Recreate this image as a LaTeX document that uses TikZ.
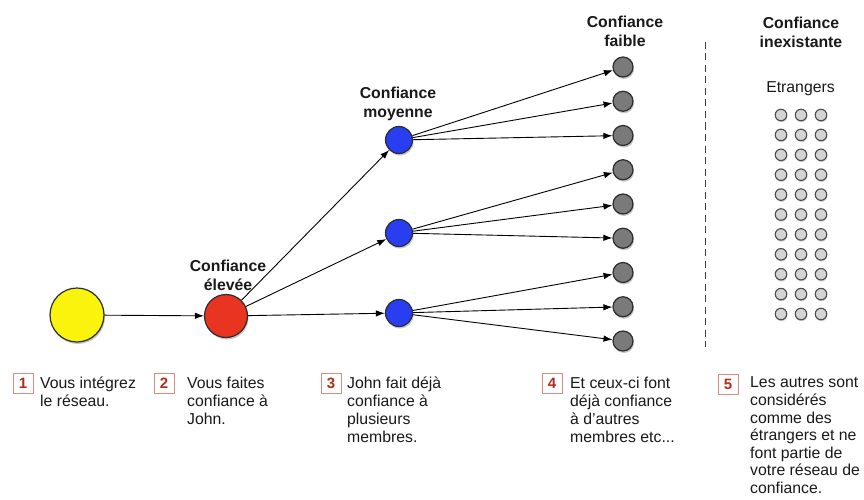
\documentclass[tikz,border=0pt]{standalone}
\usepackage{fontspec}
\setmainfont{Liberation Sans}
\usetikzlibrary{arrows.meta,shadows}
\definecolor{cyel}{RGB}{250,244,12}
\definecolor{cred}{RGB}{232,52,32}
\definecolor{cblue}{RGB}{40,62,240}
\definecolor{cgrey}{RGB}{122,122,122}
\definecolor{cstr}{RGB}{212,212,212}
\definecolor{cbox}{RGB}{214,140,128}
\definecolor{cnum}{RGB}{178,44,28}
\definecolor{cline}{RGB}{45,45,45}
\begin{document}
\begin{tikzpicture}[x=1pt,y=-1pt,
  shad/.style={drop shadow={shadow xshift=1pt,shadow yshift=-2pt,opacity=0.22,fill=black}},
  ball/.style={circle,draw=cline,line width=1.2pt,inner sep=0pt,shad},
  yelball/.style={ball,fill=cyel,minimum size=54pt},
  redball/.style={ball,fill=cred,minimum size=43pt},
  blueball/.style={ball,fill=cblue,minimum size=27pt},
  greyball/.style={ball,fill=cgrey,minimum size=20pt},
  stranger/.style={circle,draw=black!70,line width=1.1pt,fill=cstr,inner sep=0pt,minimum size=11.5pt,
     drop shadow={shadow xshift=0.5pt,shadow yshift=-1.5pt,opacity=0.18,fill=black}},
  arr/.style={-{Latex[length=9pt,width=6.5pt]},line width=0.9pt,draw=black},
  lvl/.style={font=\fontsize{15.8}{18.5}\selectfont\bfseries,align=center,anchor=north,inner sep=0pt,text=black!90},
  desc/.style={font=\fontsize{15.8}{18}\selectfont,align=left,anchor=north west,inner sep=0pt,text=black!90},
  numbox/.style={draw=cbox,line width=0.9pt,fill=white,minimum size=20pt,inner sep=0pt,
     font=\fontsize{15}{18}\selectfont\bfseries,text=cnum}
]
\useasboundingbox (0,0) rectangle (864,500);

% main nodes
\node[yelball] (you) at (77,315) {};
\node[redball] (john) at (226,316) {};
\node[blueball] (b1) at (399,140) {};
\node[blueball] (b2) at (399,233) {};
\node[blueball] (b3) at (399,313) {};
\foreach \i in {1,...,9} {
  \node[greyball] (g\i) at (623,{67+34.25*(\i-1)}) {};
}

% strangers
\foreach \c in {0,1,2} {
  \foreach \r in {0,...,10} {
    \node[stranger] (s\c-\r) at ({781+20*\c},{115+19.9*\r}) {};
  }
}

% dashed separator
\coordinate (dtop) at (705,42);
\coordinate (dbot) at (705,347);
\draw[line width=1pt,draw=black!75,dash pattern=on 7pt off 4.5pt] (dtop) -- (dbot);

% connectors
\draw[arr] (you) -- (john);
\draw[arr] (john) -- (b1);
\draw[arr] (john) -- (b2);
\draw[arr] (john) -- (b3);
\draw[arr] (b1) -- (g1);
\draw[arr] (b1) -- (g2);
\draw[arr] (b1) -- (g3);
\draw[arr] (b2) -- (g4);
\draw[arr] (b2) -- (g5);
\draw[arr] (b2) -- (g6);
\draw[arr] (b3) -- (g7);
\draw[arr] (b3) -- (g8);
\draw[arr] (b3) -- (g9);

% level labels
\node[lvl] (l1) at (228,258.4) {\strut Confiance\\élevée};
\node[lvl] (l2) at (398,85.4) {\strut Confiance\\moyenne};
\node[lvl] (l3) at (625,14.4) {\strut Confiance\\faible};
\node[lvl] (l4) at (801,15.4) {\strut Confiance\\inexistante};
\node[desc,anchor=north] (etr) at (800.5,79.4) {\strut Etrangers};

% numbered descriptions
\node[numbox] (n1) at (23,383) {1};
\node[desc] (t1) at (40,375.4) {\strut Vous intégrez\\le réseau.};
\node[numbox] (n2) at (164,383) {2};
\node[desc] (t2) at (187,375.4) {\strut Vous faites\\confiance à\\John.};
\node[numbox] (n3) at (331,383) {3};
\node[desc] (t3) at (347,375.4) {\strut John fait déjà\\confiance à\\plusieurs\\membres.};
\node[numbox] (n4) at (552,383) {4};
\node[desc] (t4) at (570,375.4) {\strut Et ceux-ci font\\déjà confiance\\à d'autres\\membres etc...};
\node[numbox] (n5) at (728,384) {5};
\node[desc,font=\fontsize{15.8}{17.6}\selectfont] (t5) at (750,375.4) {\strut Les autres sont\\considérés\\comme des\\étrangers et ne\\font partie de\\votre réseau de\\confiance.};
\end{tikzpicture}
\end{document}
